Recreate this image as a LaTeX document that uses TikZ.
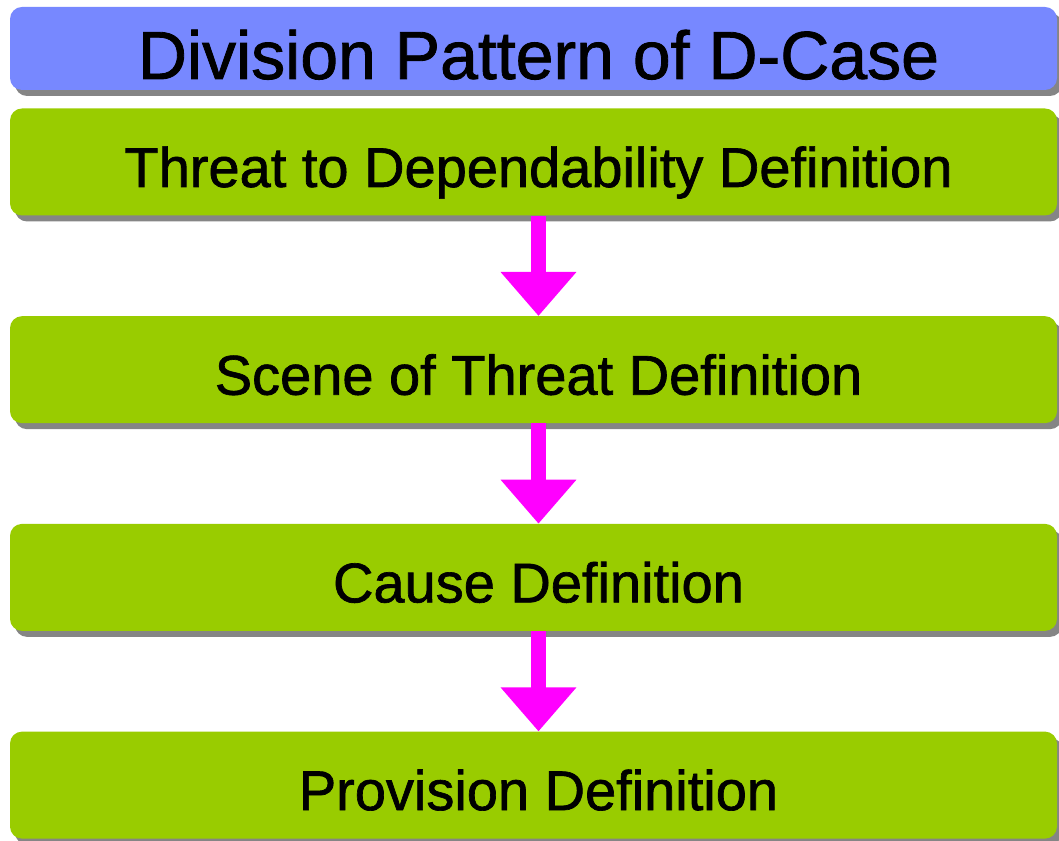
\documentclass[tikz,border=0pt]{standalone}
\usepackage{fontspec}
\setmainfont{Liberation Sans}[FakeBold=1.2]
\usetikzlibrary{arrows.meta,shadows}
\definecolor{titleblue}{RGB}{119,136,255}
\definecolor{phasegreen}{RGB}{153,204,0}
\definecolor{shadowgray}{RGB}{133,133,133}
\definecolor{flowpink}{RGB}{255,0,255}
\begin{document}
\begin{tikzpicture}[x=1pt,y=1pt]
        \tikzstyle{banner}=[rectangle,rounded corners=12pt,fill=titleblue,minimum width=1047pt,minimum height=83pt,inner sep=0pt,text height=61pt,text depth=0pt,font=\fontsize{68}{72}\selectfont,execute at begin node={\hspace*{10pt}},drop shadow={shadow xshift=5pt,shadow yshift=-6pt,fill=shadowgray,opacity=1}]
        \tikzstyle{phase}=[banner,fill=phasegreen,minimum height=107pt,text height=50pt,font=\fontsize{56}{60}\selectfont]
        \tikzstyle{flow}=[draw=flowpink,line width=15pt,-{Triangle[width=73pt,length=44pt]}]

        \useasboundingbox (0,0) rectangle (1059,840);

         \node [banner] (title) at (533.5,791.5) {Division Pattern of D-Case};
         \node [phase] (threat) at (533.5,678) {Threat to Dependability Definition};
         \node [phase] (scene) at (533.5,470.3) {Scene of Threat Definition};
         \node [phase] (cause) at (533.5,262.6) {Cause Definition};
         \node [phase] (provision) at (533.5,54.9) {Provision Definition};

 		\draw[flow] ([xshift=5pt]threat.south) -- ([xshift=5pt]scene.north);
 		\draw[flow] ([xshift=5pt]scene.south) -- ([xshift=5pt]cause.north);
 		\draw[flow] ([xshift=5pt]cause.south) -- ([xshift=5pt]provision.north);
      \end{tikzpicture}
\end{document}
